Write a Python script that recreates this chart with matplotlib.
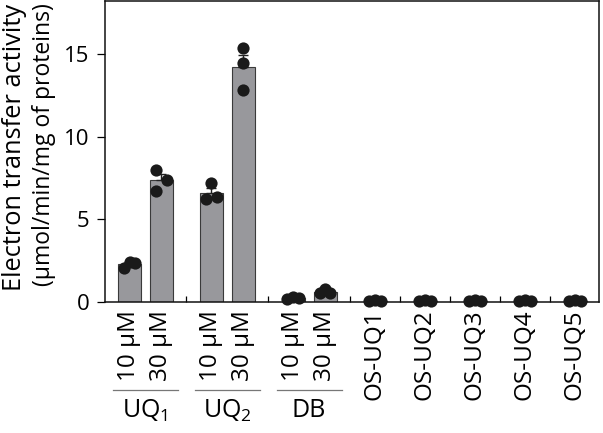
"""Electron transfer activity bar chart with individual replicates."""

import matplotlib.pyplot as plt
import numpy as np

plt.rcParams["font.family"] = ["Open Sans", "DejaVu Sans"]
plt.rcParams["mathtext.fontset"] = "custom"
plt.rcParams["mathtext.rm"] = "Open Sans"
plt.rcParams["mathtext.it"] = "Open Sans"

# tick labels under each bar
bar_labels = ["10 µM", "30 µM", "10 µM", "30 µM", "10 µM", "30 µM",
              "OS-UQ1", "OS-UQ2", "OS-UQ3", "OS-UQ4", "OS-UQ5"]
# bracketed groups under the concentration pairs
group_names = [r"UQ$_1$", r"UQ$_2$", "DB"]
group_sizes = [2, 2, 2, 1, 1, 1, 1, 1]

# replicate measurements (µmol/min/mg of proteins)
replicates = [
    [2.05, 2.42, 2.38],
    [8.0, 6.7, 7.35],
    [7.22, 6.21, 6.37],
    [15.37, 14.44, 12.83],
    [0.20, 0.30, 0.25],
    [0.55, 0.77, 0.55],
    [0.08, 0.10, 0.08],
    [0.08, 0.10, 0.08],
    [0.08, 0.10, 0.08],
    [0.08, 0.10, 0.08],
    [0.08, 0.10, 0.08],
]
# horizontal spread of the dots inside each bar (bar-pitch units)
jitter = [
    [-0.11, 0.02, 0.12],
    [-0.11, -0.11, 0.11],
    [0.0, -0.11, 0.11],
    [0.0, 0.0, 0.0],
    [-0.12, 0.0, 0.12],
    [-0.1, 0.0, 0.1],
    [-0.12, 0.0, 0.12],
    [-0.12, 0.0, 0.12],
    [-0.12, 0.0, 0.12],
    [-0.12, 0.0, 0.12],
    [-0.12, 0.0, 0.12],
]

# x layout: bars inside a pair sit closer than bars of different groups
pair_step, group_step = 0.64, 1.0
positions, separators = [], []
x = 0.48
for gi, size in enumerate(group_sizes):
    if gi > 0:
        separators.append(x - group_step / 2)
    for k in range(size):
        positions.append(x)
        x += pair_step if k < size - 1 else group_step
positions = np.array(positions)

means = np.array([np.mean(r) for r in replicates])
sems = np.array([np.std(r, ddof=1) / np.sqrt(len(r)) for r in replicates])

fig = plt.figure(figsize=(6.03, 4.33), dpi=100)
ax = fig.add_axes([105 / 603, 1 - 302 / 433, 494 / 603, 301 / 433])

ax.bar(positions, means, width=0.46, color="#98989c", edgecolor="#3a3a3a",
       linewidth=0.8, zorder=2)
ax.errorbar(positions, means, yerr=[np.zeros_like(sems), sems], fmt="none",
            ecolor="#222222", elinewidth=1.0, capsize=3.5, capthick=1.0, zorder=3)
for pos, vals, jit in zip(positions, replicates, jitter):
    ax.plot(pos + np.array(jit), vals, "o", color="#1a1a1a", markersize=8.8,
            markeredgewidth=0, clip_on=False, zorder=4)

ax.set_xlim(0, 9.88)
ax.set_ylim(0, 18.2)
ax.set_yticks([0, 5, 10, 15])
ax.set_xticks(positions)
ax.set_xticklabels(bar_labels, rotation=90, fontsize=17.5)
ax.set_xticks(separators, minor=True)
ax.tick_params(axis="x", which="major", length=0, pad=5.5)
ax.tick_params(axis="x", which="minor", direction="in", length=4.5, width=0.9)
ax.tick_params(axis="y", direction="out", length=6, width=0.9, labelsize=16, pad=5)
for spine in ax.spines.values():
    spine.set_linewidth(1.1)
    spine.set_color("#111111")

# group brackets
trans = ax.get_xaxis_transform()
start = 0
for name, size in zip(group_names, group_sizes):
    x0, x1 = positions[start] - 0.33, positions[start + size - 1] + 0.33
    ax.plot([x0, x1], [-0.292, -0.292], color="#777777", linewidth=0.9,
            transform=trans, clip_on=False)
    ax.text((x0 + x1) / 2, -0.318, name, transform=trans, ha="center",
            va="top", fontsize=18)
    start += size

fig.text(15 / 603, 1 - 147 / 433, "Electron transfer activity", rotation=90,
         ha="center", va="center", fontsize=18.3)
fig.text(44 / 603, 1 - 145 / 433, "(µmol/min/mg of proteins)", rotation=90,
         ha="center", va="center", fontsize=16.5)

fig.savefig("out.png", dpi=100)
